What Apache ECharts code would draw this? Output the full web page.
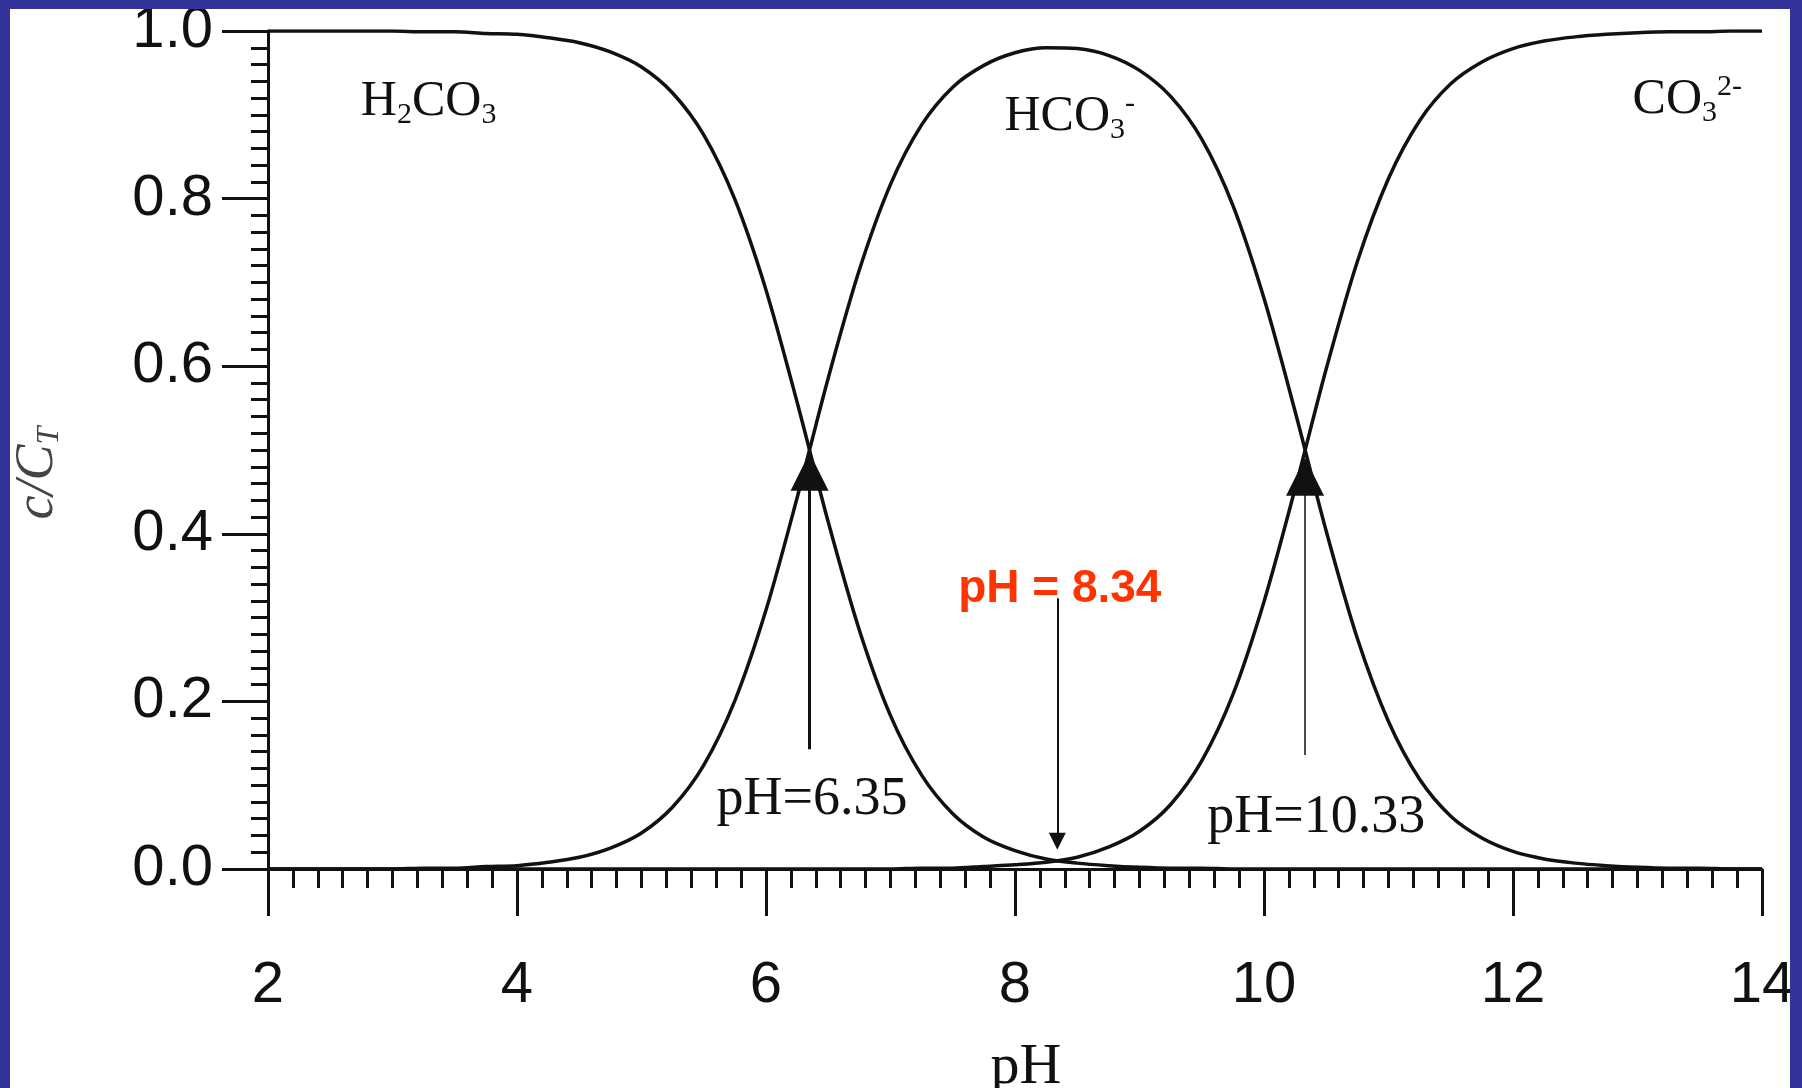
<!DOCTYPE html>
<html>
<head>
<meta charset="utf-8">
<script src="https://cdn.jsdelivr.net/npm/echarts@6/dist/echarts.min.js"></script>
<style>
html, body { margin: 0; padding: 0; width: 1802px; height: 1088px; background: #333399; overflow: hidden; }
#main { position: absolute; left: 10px; top: 9px; width: 1780px; height: 1079px; background: #fff; }
</style>
</head>
<body>
<div id="main"></div>
<script>
// pH values and fractions c/CT
var pH = [2, 2.25, 2.5, 2.75, 3, 3.25, 3.5, 3.75, 4, 4.25, 4.5, 4.75, 5, 5.25, 5.5, 5.75,
          6, 6.25, 6.5, 6.75, 7, 7.25, 7.5, 7.75, 8, 8.25, 8.5, 8.75, 9, 9.25, 9.5, 9.75,
          10, 10.25, 10.5, 10.75, 11, 11.25, 11.5, 11.75, 12, 12.25, 12.5, 12.75, 13, 13.25, 13.5, 13.75, 14];
var h2co3 = [1.000, 1.000, 1.000, 1.000, 1.000, 0.999, 0.999, 0.997, 0.996, 0.992, 0.986, 0.975, 0.957, 0.926, 0.876, 0.799,
             0.691, 0.557, 0.414, 0.285, 0.183, 0.112, 0.066, 0.038, 0.022, 0.012, 0.007, 0.004, 0.002, 0.001, 0.001, 0,
             0, 0, 0, 0, 0, 0, 0, 0, 0, 0, 0, 0, 0, 0, 0, 0, 0];
var hco3 = [0, 0, 0, 0, 0, 0.001, 0.001, 0.003, 0.004, 0.008, 0.014, 0.025, 0.043, 0.074, 0.124, 0.201,
            0.309, 0.443, 0.586, 0.715, 0.817, 0.888, 0.933, 0.959, 0.974, 0.980, 0.979, 0.971, 0.953, 0.922, 0.871, 0.792,
            0.681, 0.546, 0.403, 0.275, 0.176, 0.107, 0.063, 0.037, 0.021, 0.012, 0.007, 0.004, 0.002, 0.001, 0.001, 0, 0];
var co3 = [0, 0, 0, 0, 0, 0, 0, 0, 0, 0, 0, 0, 0, 0, 0, 0,
           0, 0, 0, 0, 0, 0.001, 0.001, 0.003, 0.005, 0.008, 0.014, 0.026, 0.045, 0.077, 0.129, 0.208,
           0.319, 0.454, 0.597, 0.725, 0.824, 0.893, 0.937, 0.963, 0.979, 0.988, 0.993, 0.996, 0.998, 0.999, 0.999, 1.000, 1.000];
var pK1 = 6.35, pK2 = 10.33, pHeq = 8.34;

function pairs(ys) {
    return pH.map(function (x, i) { return [x, ys[i]]; });
}

var serif = 'Liberation Serif';
var sans = 'Liberation Sans';
var black = '#111';

var speciesRich = {
    m: { fontFamily: serif, fontSize: 50, color: black },
    s: { fontFamily: serif, fontSize: 30, color: black, verticalAlign: 'bottom', padding: [26, 0, 0, 0] },
    u: { fontFamily: serif, fontSize: 30, color: black, verticalAlign: 'top', padding: [0, 0, 22, 0] }
};

var curveStyle = { color: black, width: 3.5 };

var myChart = echarts.init(document.getElementById('main'));
var option = {
    animation: false,
    backgroundColor: '#fff',
    grid: { left: 258, right: 28, top: 22, bottom: 219, containLabel: false, outerBoundsMode: 'none' },
    xAxis: {
        type: 'value', min: 2, max: 14, interval: 2,
        axisLine: { show: true, onZero: false, lineStyle: { color: black, width: 3 } },
        axisTick: { show: true, length: 47, lineStyle: { color: black, width: 3 } },
        minorTick: { show: true, splitNumber: 10, length: 19, lineStyle: { color: black, width: 3 } },
        splitLine: { show: false },
        axisLabel: { color: black, fontFamily: sans, fontSize: 58, margin: 88, showMinLabel: true, showMaxLabel: true },
        name: 'pH', nameLocation: 'middle', nameGap: 170,
        nameTextStyle: { fontFamily: serif, fontSize: 58, color: black, padding: [0, 0, 0, 22] }
    },
    yAxis: {
        type: 'value', min: 0, max: 1, interval: 0.2,
        axisLine: { show: true, onZero: false, lineStyle: { color: black, width: 3 } },
        axisTick: { show: true, length: 46, lineStyle: { color: black, width: 3 } },
        minorTick: { show: true, splitNumber: 10, length: 17, lineStyle: { color: black, width: 3 } },
        splitLine: { show: false },
        axisLabel: {
            color: black, fontFamily: sans, fontSize: 58, margin: 55, showMinLabel: true, showMaxLabel: true,
            formatter: function (v) { return v.toFixed(1); }
        },
        name: '{i|c/C}{t|T}', nameLocation: 'middle', nameRotate: 90, nameGap: 202,
        nameTextStyle: {
            padding: [0, 46, 0, 0],
            rich: {
                i: { fontFamily: serif, fontStyle: 'italic', fontSize: 54, color: '#444' },
                t: { fontFamily: serif, fontStyle: 'italic', fontSize: 32, color: '#444', verticalAlign: 'bottom', padding: [24, 0, 0, 0] }
            }
        }
    },
    series: [
        {
            name: 'H2CO3', type: 'line', data: pairs(h2co3), showSymbol: false, smooth: 0.3,
            lineStyle: curveStyle, silent: true,
            markPoint: {
                symbol: 'circle', symbolSize: 0, silent: true, itemStyle: { color: 'transparent' },
                label: { show: true, position: 'inside', color: black, fontFamily: serif, fontSize: 54, rich: speciesRich },
                data: [
                    { coord: [3.29, 0.915], label: { formatter: '{m|H}{s|2}{m|CO}{s|3}' } },
                    { coord: [8.44, 0.897], label: { formatter: '{m|HCO}{s|3}{u|-}' } },
                    { coord: [13.40, 0.918], label: { formatter: '{m|CO}{s|3}{u|2-}' } },
                    { coord: [6.37, 0.082], label: { formatter: 'pH=6.35' } },
                    { coord: [10.42, 0.061], label: { formatter: 'pH=10.33' } },
                    { coord: [8.36, 0.334], label: { formatter: 'pH = 8.34', fontFamily: sans, fontWeight: 'bold', fontSize: 46, color: '#ff3300' } }
                ]
            },
            markLine: {
                silent: true, symbol: ['none', 'triangle'],
                label: { show: false },
                lineStyle: { color: black, type: 'solid', width: 3 },
                data: [
                    [{ coord: [pK1, 0.143], lineStyle: { width: 3 } }, { coord: [pK1, 0.474], symbolSize: 38, lineStyle: { width: 3 } }],
                    [{ coord: [pK2, 0.136], lineStyle: { width: 1.5 } }, { coord: [pK2, 0.468], symbolSize: 38, lineStyle: { width: 1.5 } }],
                    [{ coord: [pHeq, 0.323], lineStyle: { width: 2 } }, { coord: [pHeq, 0.033], symbolSize: 17, lineStyle: { width: 2 } }]
                ]
            }
        },
        { name: 'HCO3-', type: 'line', data: pairs(hco3), showSymbol: false, smooth: 0.3, lineStyle: curveStyle, silent: true },
        { name: 'CO3 2-', type: 'line', data: pairs(co3), showSymbol: false, smooth: 0.3, lineStyle: curveStyle, silent: true }
    ]
};
myChart.setOption(option);
</script>
</body>
</html>
